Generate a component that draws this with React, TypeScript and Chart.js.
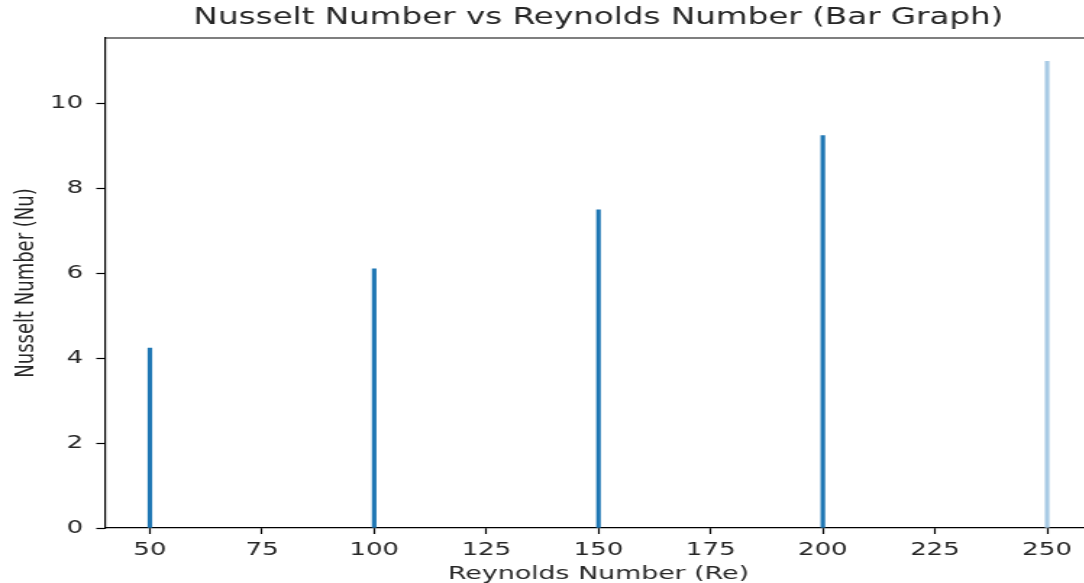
import React, { useEffect, useRef } from "react";
import { Chart, registerables } from "chart.js";

Chart.register(...registerables);

const reynolds = [50, 100, 150, 200, 250];
const nusselt = [4.24, 6.11, 7.5, 9.25, 11.0];
const barColors = ["#1f77b4", "#1f77b4", "#1f77b4", "#1f77b4", "#a9cbe5"];
const xTicks = [50, 75, 100, 125, 150, 175, 200, 225, 250];
const yTicks = [0, 2, 4, 6, 8, 10];
const titleText = "Nusselt Number vs Reynolds Number (Bar Graph)";
const xLabel = "Reynolds Number (Re)";
const yLabel = "Nusselt Number (Nu)";

const W = 754;
const H = 583;
const SX = 1092 / 754;
const FONT = "'DejaVu Sans', sans-serif";
const TEXT = "#262626";

const spinePlugin = {
  id: "spines",
  afterDatasetsDraw(chart: any) {
    const { ctx, chartArea } = chart;
    ctx.save();
    ctx.strokeStyle = "#000";
    ctx.lineWidth = 1.2;
    ctx.beginPath();
    ctx.moveTo(chartArea.left, chartArea.top);
    ctx.lineTo(chartArea.right, chartArea.top);
    ctx.lineTo(chartArea.right, chartArea.bottom);
    ctx.stroke();
    ctx.restore();
  },
};

export default function App() {
  const ref = useRef<HTMLCanvasElement>(null);

  useEffect(() => {
    document.documentElement.style.overflow = "hidden";
    document.body.style.margin = "0";
    document.body.style.overflow = "hidden";
    const chart = new Chart(ref.current as HTMLCanvasElement, {
      type: "bar",
      data: {
        datasets: [
          {
            data: reynolds.map((x, i) => ({ x, y: nusselt[i] })),
            backgroundColor: barColors,
            borderWidth: 0,
            barThickness: 2.5,
          },
        ],
      },
      options: {
        animation: false,
        responsive: true,
        maintainAspectRatio: false,
        layout: { padding: 0 },
        plugins: {
          legend: { display: false },
          tooltip: { enabled: false },
          title: {
            display: true,
            text: titleText,
            fullSize: false,
            color: TEXT,
            font: { family: FONT, size: 22.5, weight: "normal", lineHeight: 1.2 },
            padding: { top: 5, bottom: 6 },
          },
        },
        scales: {
          x: {
            type: "linear",
            min: 40,
            max: 260,
            offset: false,
            afterFit: (s: any) => {
              s.height = 55;
            },
            afterBuildTicks: (s: any) => {
              s.ticks = xTicks.map((v) => ({ value: v }));
            },
            grid: {
              display: true,
              offset: false,
              drawOnChartArea: false,
              drawTicks: true,
              tickLength: 6,
              tickColor: "#000",
              tickWidth: 1.2,
            },
            border: { display: true, color: "#000", width: 1.2 },
            ticks: {
              color: TEXT,
              font: { family: FONT, size: 18, lineHeight: 1.2 },
              padding: 6,
              maxRotation: 0,
              autoSkip: false,
            },
            title: {
              display: true,
              text: xLabel,
              color: TEXT,
              font: { family: FONT, size: 18.5, lineHeight: 1.0 },
              padding: { top: 0, bottom: 0 },
            },
          },
          y: {
            type: "linear",
            min: 0,
            max: 11.55,
            afterFit: (s: any) => {
              s.width = 72.5;
            },
            afterBuildTicks: (s: any) => {
              s.ticks = yTicks.map((v) => ({ value: v }));
            },
            grid: {
              display: true,
              offset: false,
              drawOnChartArea: false,
              drawTicks: true,
              tickLength: 6,
              tickColor: "#000",
              tickWidth: 1.2,
            },
            border: { display: true, color: "#000", width: 1.2 },
            ticks: {
              color: TEXT,
              font: { family: FONT, size: 18, lineHeight: 1.2 },
              padding: 9,
              autoSkip: false,
            },
            title: {
              display: true,
              text: yLabel,
              color: TEXT,
              font: { family: FONT, size: 18, lineHeight: 1.2 },
              padding: { top: 7.7, bottom: 0 },
            },
          },
        },
      },
      plugins: [spinePlugin],
    });
    return () => chart.destroy();
  }, []);

  return (
    <div style={{ width: 1084, height: 583, overflow: "hidden", position: "relative" }}>
      <div
        style={{
          width: W,
          height: H,
          transform: `scaleX(${SX})`,
          transformOrigin: "0 0",
          position: "absolute",
          left: 0,
          top: 0,
        }}
      >
        <canvas ref={ref} />
      </div>
    </div>
  );
}
